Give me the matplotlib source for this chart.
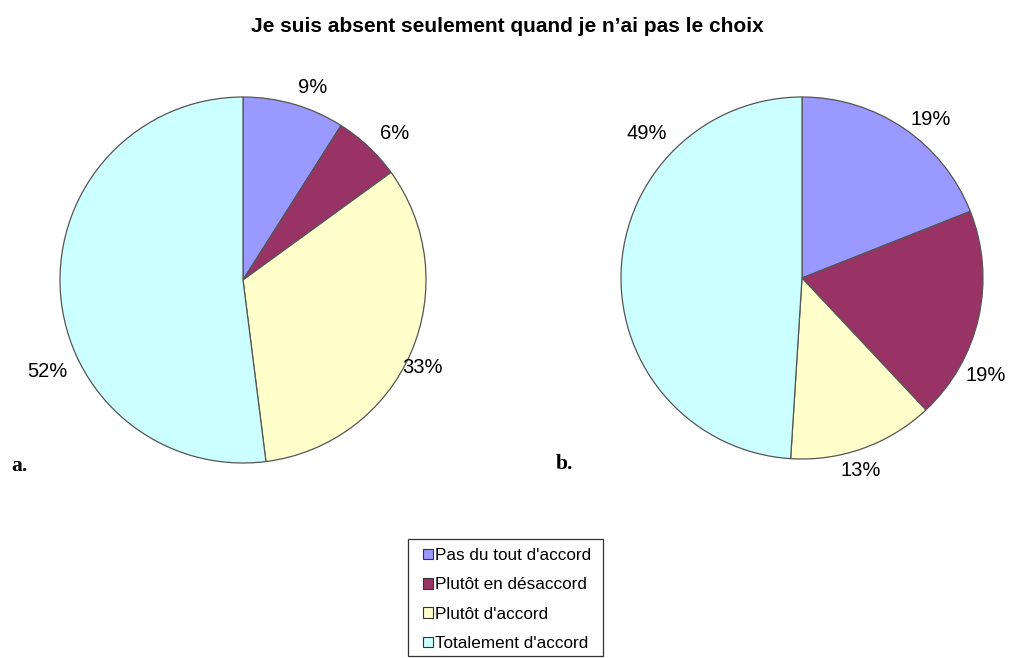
import numpy as np
import matplotlib
matplotlib.use("Agg")
import matplotlib.pyplot as plt
from matplotlib.patches import Patch, Rectangle

categories = ["Pas du tout d'accord", "Plutôt en désaccord", "Plutôt d'accord", "Totalement d'accord"]
values_a = [9, 6, 33, 52]
values_b = [19, 19, 13, 49]
colors = ["#9999FF", "#993366", "#FFFFCC", "#CCFFFF"]
title = "Je suis absent seulement quand je n\u2019ai pas le choix"

# label placement (angle in degrees, distance in radii) — Excel-like positions
label_pos_a = [(70, 1.12), (44, 1.15), (-26, 1.09), (205, 1.18)]
label_pos_b = [(51, 1.13), (-28, 1.15), (-73, 1.11), (137, 1.17)]

plt.rcParams['font.family'] = ['Liberation Sans', 'DejaVu Sans']

fig = plt.figure(figsize=(10.14, 6.58), dpi=100)
W, H = 1014, 658

def make_pie(cx, cy, r, values, label_pos, letter, letter_xy):
    ax = fig.add_axes([(cx - r) / W, (H - cy - r) / H, 2 * r / W, 2 * r / H])
    wedges, _ = ax.pie(values, colors=colors, startangle=90, counterclock=False,
                       radius=1, wedgeprops=dict(edgecolor="#555555", linewidth=0.9))
    for v, (ang, d) in zip(values, label_pos):
        t = np.deg2rad(ang)
        ax.text(d * np.cos(t), d * np.sin(t), f"{v}%", ha="center", va="center",
                fontsize=14.5, color="black", clip_on=False)
    ax.set_xlim(-1, 1)
    ax.set_ylim(-1, 1)
    ax.set_aspect("auto")
    ax.axis("off")
    fig.text(letter_xy[0] / W, 1 - letter_xy[1] / H, letter, fontsize=15.5, fontweight="bold",
             family=["Liberation Serif", "DejaVu Serif"], ha="left", va="center")
    return wedges

wedges = make_pie(243, 280, 183, values_a, label_pos_a, "a.", (11, 466))
make_pie(802, 278, 181, values_b, label_pos_b, "b.", (556, 464))

fig.text(0.5, 1 - 26 / H, title, ha="center", va="center", fontsize=15, fontweight="bold")

# legend frame
fig.patches.append(Rectangle((408 / W, 1 - 656 / H), 195 / W, 117 / H,
                             transform=fig.transFigure, facecolor="white",
                             edgecolor="#333333", linewidth=0.9, zorder=1))
handles = [Patch(facecolor=c, edgecolor="#333333", linewidth=0.8) for c in colors]
leg = fig.legend(handles, categories, loc="upper left",
                 bbox_to_anchor=(423 / W, 1 - 548 / H), fontsize=12.3,
                 frameon=False,
                 handlelength=0.6, handleheight=0.6, handletextpad=0.1,
                 labelspacing=0.84, borderpad=0, borderaxespad=0)
leg.set_zorder(2)

fig.savefig("out.png", dpi=100, facecolor="white")
